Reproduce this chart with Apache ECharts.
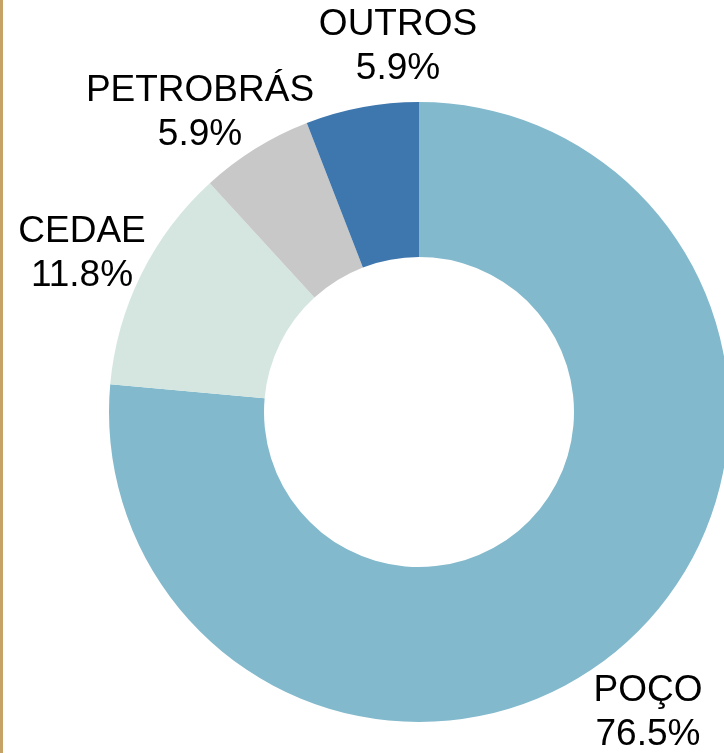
<!DOCTYPE html>
<html>
<head>
<meta charset="utf-8">
<script src="https://cdn.jsdelivr.net/npm/echarts@6/dist/echarts.min.js"></script>
<style>
html,body{margin:0;padding:0;background:#fff;}
#chart{width:724px;height:753px;}
</style>
</head>
<body>
<div id="chart"></div>
<script>
const categories = ['POÇO', 'CEDAE', 'PETROBRÁS', 'OUTROS'];
const values = [76.5, 11.8, 5.9, 5.9];
const valueLabels = ['76.5%', '11.8%', '5.9%', '5.9%'];
const colors = ['#82B9CC', '#D4E6DF', '#C8C8C8', '#3E76AE'];
// label block centers (layout, not data)
const labelPos = [[648, 713], [82, 254], [200, 113], [398, 47]];

const chart = echarts.init(document.getElementById('chart'), null, {renderer: 'canvas'});
chart.setOption({
  animation: false,
  backgroundColor: '#ffffff',
  graphic: [{
    type: 'rect', left: 0, top: 0,
    shape: {width: 3, height: 753},
    style: {fill: '#C6A266'}
  }],
  series: [{
    type: 'pie',
    center: [419, 412],
    radius: [155, 310],
    startAngle: 90,
    clockwise: true,
    avoidLabelOverlap: false,
    data: categories.map((c, i) => ({
      name: c, value: values[i],
      itemStyle: {color: colors[i]}
    })),
    itemStyle: {borderWidth: 0},
    label: {
      show: true,
      position: 'outside',
      formatter: p => p.name + '\n' + valueLabels[p.dataIndex],
      fontFamily: 'Liberation Sans, Arial, sans-serif',
      fontSize: 37,
      lineHeight: 44,
      color: '#000',
      align: 'center'
    },
    labelLine: {show: false},
    labelLayout: p => ({
      x: labelPos[p.dataIndex][0],
      y: labelPos[p.dataIndex][1],
      align: 'center',
      verticalAlign: 'middle'
    }),
    emphasis: {disabled: true}
  }]
});
</script>
</body>
</html>
